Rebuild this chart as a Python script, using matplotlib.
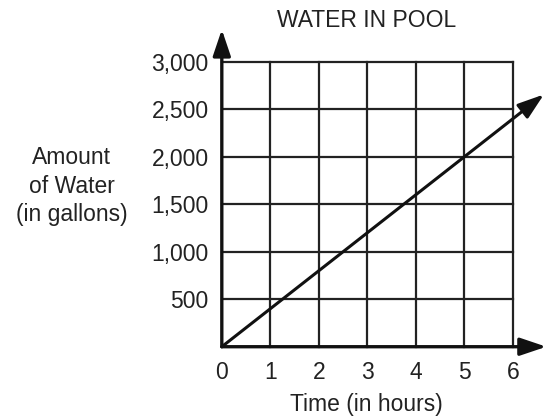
import matplotlib
matplotlib.use("Agg")
import matplotlib.pyplot as plt

plt.rcParams['font.family'] = ['Liberation Sans', 'DejaVu Sans']

# data
hours = [0, 6.64]
gallons = [0, 400 * 6.64]   # 400 gallons per hour
x_ticks = [0, 1, 2, 3, 4, 5, 6]
y_ticks = [500, 1000, 1500, 2000, 2500, 3000]
y_labels = ["500", "1,000", "1,500", "2,000", "2,500", "3,000"]

fig = plt.figure(figsize=(5.45, 4.19), dpi=100)
ax = fig.add_axes([0.407, 0.1725, 0.534, 0.680])
ax.set_xlim(0, 6)
ax.set_ylim(0, 3000)

for s in ax.spines.values():
    s.set_visible(False)

grid_kw = dict(color="#222222", linewidth=1.6, clip_on=False, zorder=1)
for x in x_ticks[1:]:
    ax.plot([x, x], [0, 3000], **grid_kw)
for y in y_ticks:
    ax.plot([0, 6], [y, y], **grid_kw)

# axes with arrows
head = "-|>,head_length=0.8,head_width=0.27"
arrow_kw = dict(arrowstyle=head, color="#111111", lw=2.4,
                shrinkA=0, shrinkB=0, mutation_scale=20)
ax.annotate("", xy=(6.69, 0), xytext=(0, 0), arrowprops=arrow_kw,
            annotation_clip=False, zorder=3)
ax.annotate("", xy=(0, 3340), xytext=(0, 0), arrowprops=arrow_kw,
            annotation_clip=False, zorder=3)

# data line
line_kw = dict(arrowstyle=head, color="#111111", lw=2.2,
               shrinkA=0, shrinkB=0, mutation_scale=20)
ax.annotate("", xy=(hours[1], gallons[1]), xytext=(hours[0], gallons[0]),
            arrowprops=line_kw, annotation_clip=False, zorder=4)

fs = 16.5
ax.set_xticks(x_ticks)
ax.set_xticklabels([str(v) for v in x_ticks], fontsize=fs, color="#222222")
ax.set_yticks(y_ticks)
ax.set_yticklabels(y_labels, fontsize=fs, color="#222222")
ax.tick_params(length=0)
ax.tick_params(axis="x", pad=10)
ax.tick_params(axis="y", pad=9.5)

fig.text(0.673, 0.952, "WATER IN POOL", ha="center", va="center", fontsize=fs, color="#222222")
fig.text(0.673, 0.035, "Time (in hours)", ha="center", va="center", fontsize=fs, color="#222222")
fig.text(0.132, 0.556, "Amount\nof Water\n(in gallons)", ha="center", va="center",
         fontsize=fs, color="#222222", linespacing=1.3)

fig.savefig("out.png", dpi=100)
